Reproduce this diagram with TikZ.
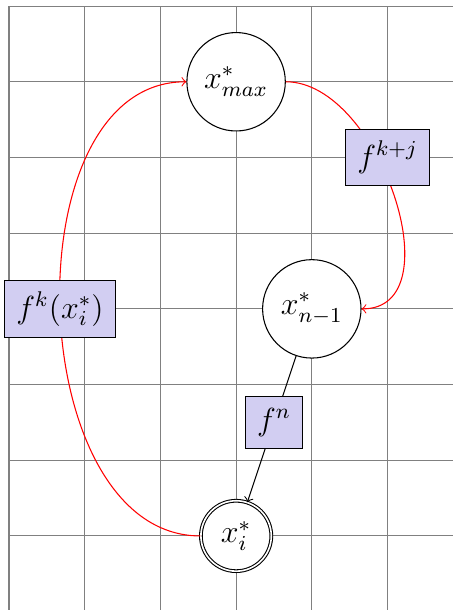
\documentclass[tikz,border=0pt]{standalone}
\usepackage{amsmath}
\usepackage{xcolor}
\usepackage{tikz}
\usetikzlibrary{positioning}
\definecolor{maplavender}{RGB}{210,206,242}
\tikzset{
	statenode/.style={
		circle,
		draw,
		fill=white,
		minimum size=1.3cm,
		inner sep=0pt,
		font=\large
	},
	fixnode/.style={
		statenode,
		double,
		minimum size=0.93cm
	},
	mapbox/.style={
		rectangle,
		draw=black,
		text=black,
		fill=maplavender,
		inner sep=4.3pt,
		font=\large
	},
	conn/.style={->},
	loopconn/.style={->,red}
}
\begin{document}
\begin{tikzpicture}
	\useasboundingbox (-0.119,-0.978) rectangle (5.865,7.08);
	\clip (-0.119,-0.978) rectangle (5.865,7.08);
	\draw[gray] (0,-1) grid (6,7);
	
	% Nodes
	\node[statenode] (xmax) at (3,6) {$x^*_{max}$};
	\node[statenode] (xnm) at (4,3) {$x^*_{n-1}$};
	\node[fixnode] (xi) at (3,0) {$x^*_i$};
	
	% Connections
	\draw[loopconn] (xi) to[out=180,in=180] node[mapbox] (fk) {$f^k(x_i^*)$} (xmax);
	\draw[loopconn] (xmax) to[out=0,in=0] (xnm);
	\node[mapbox] (fkj) at (5,5) {$f^{k+j}$};
	\draw[conn] (xnm) -- node[mapbox,pos=0.455] (fn) {$f^n$} (xi);
	
\end{tikzpicture}
\end{document}
